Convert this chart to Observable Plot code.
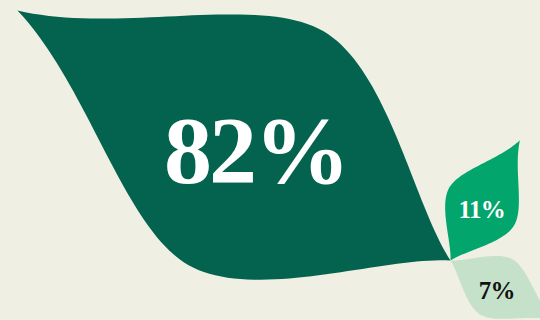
<!DOCTYPE html>
<html>
<head>
<meta charset="utf-8">
<script src="https://cdn.jsdelivr.net/npm/d3@7"></script>
<script src="https://cdn.jsdelivr.net/npm/@observablehq/plot@0.6"></script>
<style>
  html, body { margin: 0; padding: 0; background: #f0efe3; }
  #chart { width: 540px; height: 320px; }
  #chart svg text { font-family: "Liberation Serif", "Times New Roman", serif; font-weight: bold; letter-spacing: -0.03em; }
</style>
</head>
<body>
<div id="chart"></div>
<script>
// ---- data ----
const categories = ["Largest share", "Middle share", "Smallest share"];
const values = [82, 11, 7];
const labels = ["82%", "11%", "7%"];

// ---- layout / style (not data) ----
const colors = ["#03634f", "#02a56b", "#c6e1c9"];
const textColors = ["#ffffff", "#ffffff", "#111111"];
const startAngle = 150;            // degrees, math orientation (y up)
const stepAngle = -90;             // leaves fan clockwise
const lengthScale = d3.scaleLinear().domain([0, 82]).range([83, 500]);

// leaf template: two cubic segments per side, in (u along axis, v across)
const segA = [[0, 0], [0.12, 0.06], [0.3, 0.27], [0.45, 0.27]];
const segB = [[0.45, 0.27], [0.6, 0.27], [0.8, 0.06], [1, 0]];
function bez(p, t) {
  const a = (1 - t) ** 3, b = 3 * t * (1 - t) ** 2, c = 3 * t * t * (1 - t), d = t ** 3;
  return [a * p[0][0] + b * p[1][0] + c * p[2][0] + d * p[3][0],
          a * p[0][1] + b * p[1][1] + c * p[2][1] + d * p[3][1]];
}
const N = 40;
const upper = [];
for (const seg of [segA, segB]) for (let i = 0; i <= N; i++) upper.push(bez(seg, i / N));
const lower = upper.slice().reverse().map(([u, v]) => [u, -v]);
const template = upper.concat(lower);

const leafPoints = [];
const labelRows = [];
categories.forEach((cat, i) => {
  const L = lengthScale(values[i]);
  const th = (startAngle + stepAngle * i) * Math.PI / 180;
  const ax = Math.cos(th), ay = Math.sin(th);
  const nx = -ay, ny = ax;
  template.forEach(([u, v]) => {
    leafPoints.push({cat, x: L * (u * ax + v * nx), y: L * (u * ay + v * ny)});
  });
  labelRows.push({
    cat, text: labels[i],
    x: L * 0.45 * ax, y: L * 0.45 * ay,
    fill: textColors[i],
    size: L > 300 ? 96 : 25
  });
});

const chart = Plot.plot({
  width: 540,
  height: 320,
  margin: 0,
  x: {domain: [-450, 90], axis: null},
  y: {domain: [-60, 260], axis: null},
  color: {domain: categories, range: colors},
  style: {background: "#f0efe3"},
  marks: [
    Plot.line(leafPoints, {x: "x", y: "y", z: "cat", fill: "cat", stroke: "none", curve: "linear"}),
    Plot.text(labelRows, {
      x: "x", y: "y", text: "text",
      fill: d => d.fill, fontSize: d => d.size,
      fontFamily: "Liberation Serif", fontWeight: "bold",
      textAnchor: "middle", lineAnchor: "middle", dy: 4
    })
  ]
});
document.getElementById("chart").appendChild(chart);
</script>
</body>
</html>
